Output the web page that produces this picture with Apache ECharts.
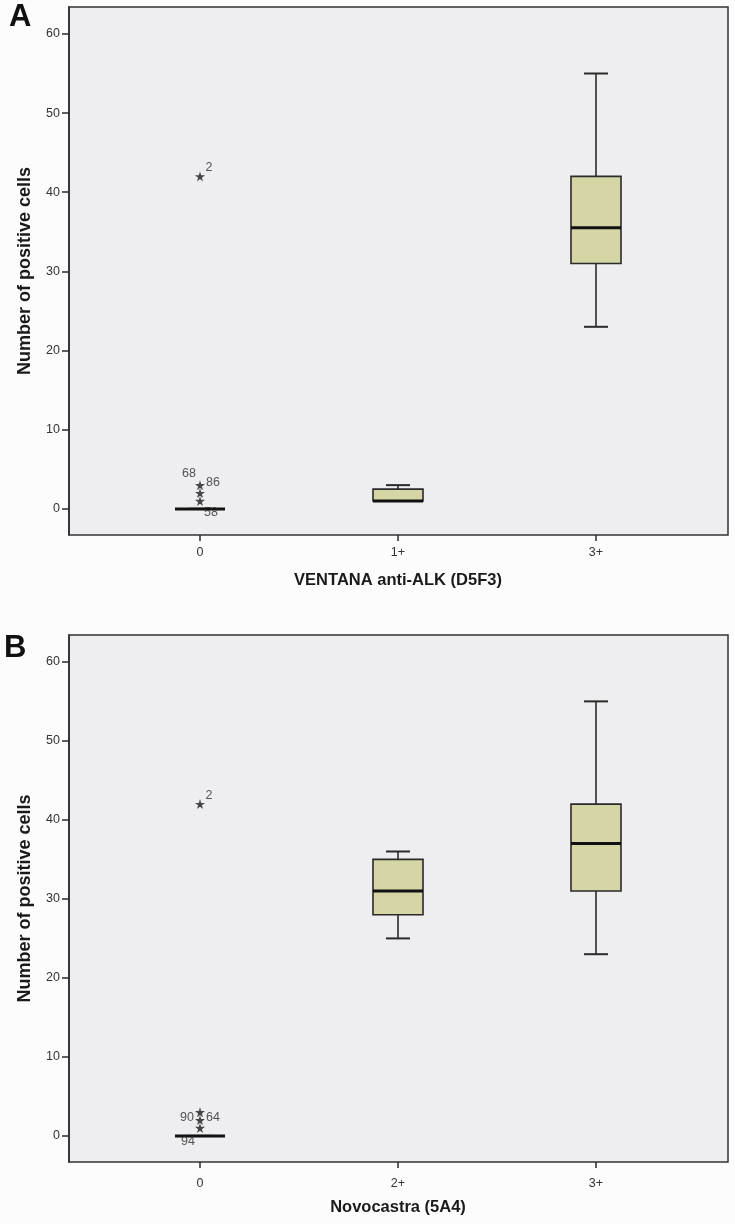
<!DOCTYPE html>
<html>
<head>
<meta charset="utf-8">
<script src="https://cdn.jsdelivr.net/npm/echarts@6/dist/echarts.min.js"></script>
<style>
html,body{margin:0;padding:0;background:#fcfcfc;}
#chart{width:735px;height:1224px;}
</style>
</head>
<body>
<div id="chart"></div>
<script>
// ---- data ----
var categoriesA = ['0', '1+', '3+'];
var categoriesB = ['0', '2+', '3+'];
var yTicks = [0, 10, 20, 30, 40, 50, 60];
// [min, Q1, median, Q3, max]
var boxesA = [[0, 0, 0, 0, 0], [1, 1, 1, 2.5, 3], [23, 31, 35.5, 42, 55]];
var boxesB = [[0, 0, 0, 0, 0], [25, 28, 31, 35, 36], [23, 31, 37, 42, 55]];
// outliers: [categoryIndex, value]
var outliersA = [[0, 42], [0, 3], [0, 2], [0, 1]];
var outliersB = [[0, 42], [0, 3], [0, 2], [0, 1]];
// case labels: [categoryIndex, value, text]
var caseLabelsA = [[0, 42, '2'], [0, 3, '68'], [0, 3, '86'], [0, 0, '58']];
var caseLabelsB = [[0, 42, '2'], [0, 3, '90'], [0, 3, '64'], [0, 0, '94']];
var xTitleA = 'VENTANA anti-ALK (D5F3)';
var xTitleB = 'Novocastra (5A4)';
var yTitle = 'Number of positive cells';

// ---- styling (not data) ----
var FONT = 'Liberation Sans, Arial, sans-serif';
var labelOffsets = {
  '2': [9, -9], '68': [-11, -12], '86': [13, -3], '58': [11, 4],
  '90': [-13, 5], '64': [13, 5], '94': [-12, 6]
};
var starPath = 'path://M50,0 L61,35 L98,35 L68,57 L79,91 L50,70 L21,91 L32,57 L2,35 L39,35 Z';

function boxSeries(boxes, idx) {
  return {
    type: 'custom',
    xAxisIndex: idx, yAxisIndex: idx,
    data: boxes.map(function (b, i) { return [i].concat(b); }),
    encode: { x: 0, y: [1, 2, 3, 4, 5] },
    z: 5,
    renderItem: function (params, api) {
      var i = api.value(0);
      var pMin = api.coord([i, api.value(1)]);
      var pQ1 = api.coord([i, api.value(2)]);
      var pMed = api.coord([i, api.value(3)]);
      var pQ3 = api.coord([i, api.value(4)]);
      var pMax = api.coord([i, api.value(5)]);
      var x = pMed[0];
      var hw = 25, cw = 12;
      var stroke = { stroke: '#2a2a2a', lineWidth: 1.6 };
      var children = [
        { type: 'line', shape: { x1: x, y1: pMax[1], x2: x, y2: pQ3[1] }, style: stroke },
        { type: 'line', shape: { x1: x, y1: pQ1[1], x2: x, y2: pMin[1] }, style: stroke },
        { type: 'line', shape: { x1: x - cw, y1: pMax[1], x2: x + cw, y2: pMax[1] }, style: { stroke: '#2a2a2a', lineWidth: 2 } },
        { type: 'line', shape: { x1: x - cw, y1: pMin[1], x2: x + cw, y2: pMin[1] }, style: { stroke: '#2a2a2a', lineWidth: 2 } }
      ];
      if (Math.abs(pQ1[1] - pQ3[1]) > 0.5) {
        children.push({ type: 'rect', shape: { x: x - hw, y: pQ3[1], width: 2 * hw, height: pQ1[1] - pQ3[1] },
          style: { fill: '#d5d5a5', stroke: '#2a2a2a', lineWidth: 1.6 } });
      }
      children.push({ type: 'line', shape: { x1: x - hw, y1: pMed[1], x2: x + hw, y2: pMed[1] },
        style: { stroke: '#111', lineWidth: 3 } });
      return { type: 'group', children: children };
    }
  };
}

function outlierSeries(pts, idx) {
  return {
    type: 'scatter', xAxisIndex: idx, yAxisIndex: idx,
    data: pts, symbol: starPath, symbolSize: 10, z: 6,
    itemStyle: { color: '#1a1a1a' }, silent: true
  };
}

function caseLabelSeries(lbls, idx) {
  return {
    type: 'scatter', xAxisIndex: idx, yAxisIndex: idx,
    data: lbls.map(function (l) {
      return { value: [l[0], l[1]], label: { offset: labelOffsets[l[2]] || [0, 0] }, name: l[2] };
    }),
    symbolSize: 0, z: 7, silent: true,
    label: { show: true, position: 'inside', formatter: function (p) { return p.name; },
      fontFamily: FONT, fontSize: 12.5, color: '#2a2a2a' }
  };
}

function dataX(cats, idx, margin) {
  return {
    type: 'category', gridIndex: idx, data: cats, boundaryGap: true,
    axisLine: { show: false, onZero: false },
    axisTick: { show: true, alignWithLabel: true, length: 6, lineStyle: { color: '#2a2a2a', width: 1.5 } },
    axisLabel: { fontFamily: FONT, fontSize: 12.5, color: '#333', margin: margin },
    splitLine: { show: false },
    name: idx === 0 ? xTitleA : xTitleB, nameLocation: 'middle', nameGap: 37,
    nameTextStyle: { fontFamily: FONT, fontSize: 16.5, fontWeight: 'bold', color: '#1a1a1a' }
  };
}

function dataY(idx) {
  return {
    type: 'value', gridIndex: idx, min: -3.3, max: 63.4, offset: 32,
    axisLine: { show: true, onZero: false, lineStyle: { color: '#2a2a2a', width: 1.5 } },
    axisTick: { show: true, length: 7, customValues: yTicks, lineStyle: { color: '#2a2a2a', width: 1.5 } },
    axisLabel: { fontFamily: FONT, fontSize: 12.5, color: '#333', margin: 9, customValues: yTicks },
    splitLine: { show: false },
    name: yTitle, nameLocation: 'middle', nameGap: 35,
    nameTextStyle: { fontFamily: FONT, fontSize: 18, fontWeight: 'bold', color: '#1a1a1a' }
  };
}

var chart = echarts.init(document.getElementById('chart'), null, { renderer: 'canvas' });
chart.setOption({
  backgroundColor: '#fcfcfc',
  animation: false,
  grid: [
    { left: 101, right: 40, top: 7, height: 528, show: false },
    { left: 101, right: 40, top: 635, height: 527, show: false },
    { left: 69, right: 7, top: 7, height: 528, show: true, backgroundColor: '#eeeef0', borderColor: '#333', borderWidth: 1.5, z: 0 },
    { left: 69, right: 7, top: 635, height: 527, show: true, backgroundColor: '#eeeef0', borderColor: '#333', borderWidth: 1.5, z: 0 }
  ],
  xAxis: [
    dataX(categoriesA, 0, 11),
    dataX(categoriesB, 1, 15),
    { type: 'value', gridIndex: 2, show: false },
    { type: 'value', gridIndex: 3, show: false }
  ],
  yAxis: [
    dataY(0),
    dataY(1),
    { type: 'value', gridIndex: 2, show: false },
    { type: 'value', gridIndex: 3, show: false }
  ],
  graphic: [
    { type: 'text', left: 9, top: 2, style: { text: 'A', fontFamily: FONT, fontSize: 31, fontWeight: 'bold', fill: '#111' } },
    { type: 'text', left: 4, top: 633, style: { text: 'B', fontFamily: FONT, fontSize: 31, fontWeight: 'bold', fill: '#111' } }
  ],
  series: [
    boxSeries(boxesA, 0),
    boxSeries(boxesB, 1),
    outlierSeries(outliersA, 0),
    outlierSeries(outliersB, 1),
    caseLabelSeries(caseLabelsA, 0),
    caseLabelSeries(caseLabelsB, 1)
  ]
});
</script>
</body>
</html>
